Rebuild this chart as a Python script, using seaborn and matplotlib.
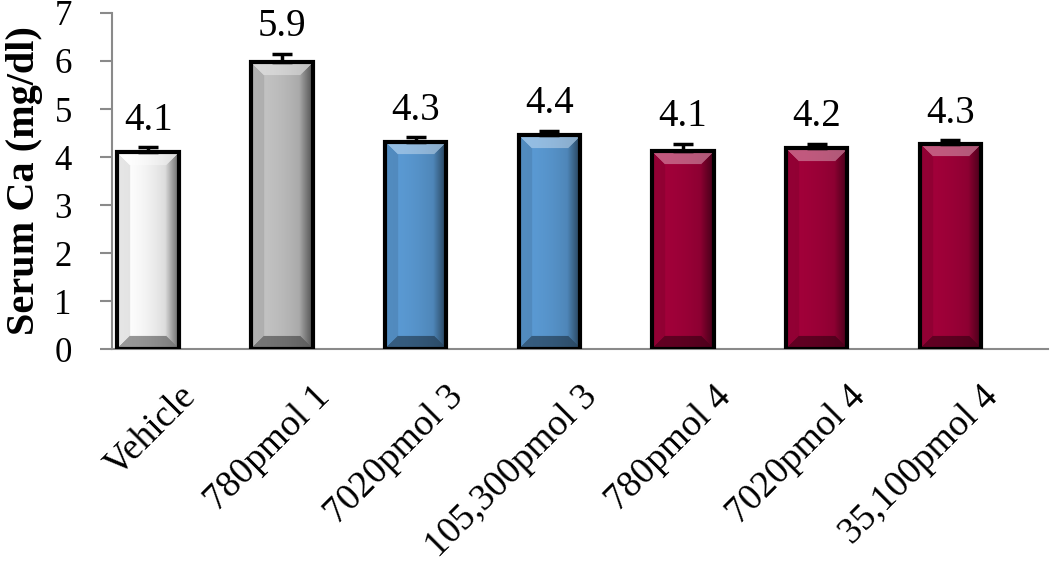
import numpy as np
import pandas as pd
import matplotlib
matplotlib.use("Agg")
import matplotlib.pyplot as plt
import matplotlib.colors as mcolors
import seaborn as sns

# data
groups = ["Vehicle", "780pmol 1", "7020pmol 3", "105,300pmol 3",
          "780pmol 4", "7020pmol 4", "35,100pmol 4"]
serum_ca = [4.10, 5.97, 4.32, 4.45, 4.12, 4.18, 4.28]
sem = [0.10, 0.18, 0.09, 0.10, 0.16, 0.10, 0.07]
value_labels = ["4.1", "5.9", "4.3", "4.4", "4.1", "4.2", "4.3"]
bar_colors = ["#ffffff", "#c4c4c4", "#5b9bd5", "#5b9bd5",
              "#a3003a", "#a3003a", "#a3003a"]

sns.set_theme(style="white")
plt.rcParams["font.family"] = ["Liberation Serif", "DejaVu Serif"]
plt.rcParams["text.color"] = "black"
plt.rcParams["xtick.labelcolor"] = "black"
plt.rcParams["ytick.labelcolor"] = "black"
plt.rcParams["axes.labelcolor"] = "black"

df = pd.DataFrame({"group": groups, "value": serum_ca, "series": "Serum Ca"})

fig = plt.figure(figsize=(10.5, 5.77), dpi=100)
ax = fig.add_axes([0.1067, 0.395, 0.8914, 0.5825])

# two hue levels, second one empty -> bars sit in the left half of each slot
sns.barplot(data=df, x="group", y="value", hue="series",
            hue_order=["Serum Ca", "blank"], width=0.92, dodge=True,
            errorbar=None, legend=False, ax=ax)

ax.set_xlim(-0.5, len(groups) - 0.5)
ax.set_ylim(0, 7)
ax.set_yticks(range(0, 8))

bars = list(ax.patches)[:len(groups)]
for p, c in zip(bars, bar_colors):
    p.set_facecolor("none")
    p.set_edgecolor("black")
    p.set_linewidth(3)
    p.set_zorder(3)

fig.canvas.draw()
renderer = fig.canvas.get_renderer()


def bevel_image(color, nx, ny, b=13):
    base = np.array(mcolors.to_rgb(color))
    img = np.tile(base, (ny, nx, 1))
    rows = np.arange(ny)[:, None] * np.ones((1, nx))
    cols = np.ones((ny, 1)) * np.arange(nx)[None, :]
    d_top, d_bot = rows, ny - 1 - rows
    d_left, d_right = cols, nx - 1 - cols
    dmin = np.minimum(np.minimum(d_top, d_bot), np.minimum(d_left, d_right))
    white, black = np.ones(3), np.zeros(3)
    # soft horizontal shading toward the right side
    t = (cols / max(nx - 1, 1))[..., None]
    img = img * (1 - 0.22 * t ** 2)
    inb = dmin < b
    top = inb & (d_top == dmin)
    bot = inb & (d_bot == dmin) & ~top
    right = inb & (d_right == dmin) & ~top & ~bot
    left = inb & (d_left == dmin) & ~top & ~bot & ~right
    img[top] = img[top] * 0.65 + white * 0.35
    img[bot] = img[bot] * 0.6 + black * 0.4
    fr = (1 - d_right / b)[right][:, None]
    img[right] = img[right] * (1 - 0.45 * fr) + black * 0.45 * fr
    img[left] = img[left] * 0.9 + black * 0.1
    return np.clip(img, 0, 1)


for p, c in zip(bars, bar_colors):
    bb = p.get_window_extent(renderer)
    nx, ny = max(int(bb.width), 2), max(int(bb.height), 2)
    x0, y0 = p.get_x(), p.get_y()
    ax.imshow(bevel_image(c, nx, ny), extent=(x0, x0 + p.get_width(), y0, y0 + p.get_height()),
              aspect="auto", zorder=2, interpolation="bilinear")

centers = [p.get_x() + p.get_width() / 2 for p in bars]
ax.errorbar(centers, serum_ca, yerr=[np.zeros(len(sem)), sem], fmt="none",
            ecolor="black", elinewidth=2.5, capsize=7, capthick=2.5, zorder=4)

for cx, v, e, lab in zip(centers, serum_ca, sem, value_labels):
    ax.annotate(lab, (cx, v + e), xytext=(0, 6), textcoords="offset points",
                ha="center", va="bottom", fontsize=28, color="black")

ax.set_xlim(-0.5, len(groups) - 0.5)
ax.set_ylim(0, 7)

# spines and ticks
sns.despine(ax=ax, top=True, right=True)
for s in ["left", "bottom"]:
    ax.spines[s].set_color("#8a8a8a")
    ax.spines[s].set_linewidth(1.5)

ax.set_xticks(range(len(groups)))
ax.set_xticklabels(groups, rotation=45, ha="right", rotation_mode="anchor", fontsize=27)
ax.set_xticks(np.arange(-0.5, len(groups)), minor=True)
ax.tick_params(axis="x", which="major", length=0, pad=22)
ax.tick_params(axis="x", which="minor", length=8, width=1.5, color="#8a8a8a", direction="out")
ax.tick_params(axis="y", length=9, width=1.5, color="#8a8a8a", direction="out",
               labelsize=25, pad=20, left=True)

ax.set_xlabel("")
ax.set_ylabel("Serum Ca (mg/dl)", fontsize=29, fontweight="bold", labelpad=8)

fig.savefig("out.png", dpi=100, facecolor="white")
